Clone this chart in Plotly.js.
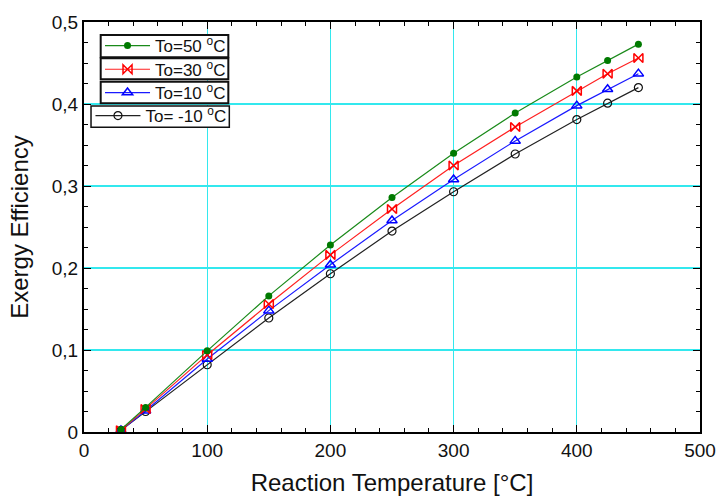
<!DOCTYPE html>
<html><head><meta charset="utf-8">
<script src="https://cdn.plot.ly/plotly-3.0.1.min.js"></script>
<style>body{margin:0;padding:0;background:#fff}</style>
</head><body>
<div id="chart" style="width:717px;height:496px"></div>
<script>
const temps = [30, 50, 100, 150, 200, 250, 300, 350, 400, 425, 450];
const eff50 = [0.003, 0.030, 0.099, 0.166, 0.228, 0.286, 0.340, 0.389, 0.433, 0.453, 0.473];
const eff30 = [0.002, 0.028, 0.094, 0.156, 0.216, 0.272, 0.325, 0.372, 0.416, 0.437, 0.456];
const eff10 = [0.002, 0.026, 0.089, 0.148, 0.204, 0.258, 0.308, 0.355, 0.398, 0.418, 0.437];
const effM10 = [0.002, 0.025, 0.082, 0.139, 0.193, 0.245, 0.293, 0.339, 0.381, 0.401, 0.420];
const names = ['To=50 <sup>o</sup>C', 'To=30 <sup>o</sup>C', 'To=10 <sup>o</sup>C', 'To= -10 <sup>o</sup>C'];

const traces = [
  {x: temps, y: effM10, name: names[3], legend: 'legend4', mode: 'lines+markers',
   line: {color: '#222', width: 1.2}, marker: {symbol: 'circle-open', size: 8, color: '#111', line: {width: 1.2}}},
  {x: temps, y: eff10, name: names[2], legend: 'legend3', mode: 'lines+markers',
   line: {color: '#1a1aff', width: 1.2}, marker: {symbol: 'triangle-up-open', size: 9, color: '#0000ff', line: {width: 1.5}}},
  {x: temps, y: eff30, name: names[1], legend: 'legend2', mode: 'lines+markers',
   line: {color: '#ff2020', width: 1.2}, marker: {symbol: 'bowtie-open', size: 9, color: '#ff0000', line: {width: 1.5}}},
  {x: temps, y: eff50, name: names[0], legend: 'legend', mode: 'lines+markers',
   line: {color: '#1a8a1a', width: 1.2}, marker: {symbol: 'circle', size: 7, color: '#007a00'}}
];

const legBase = {bgcolor: 'rgba(0,0,0,0)', borderwidth: 0, font: {size: 17, color: '#111'},
  xanchor: 'left', yanchor: 'middle', itemwidth: 45, tracegroupgap: 0};

function box(x0, x1, y0, y1, w) {
  return {type: 'rect', xref: 'paper', yref: 'paper', x0: x0, x1: x1, y0: y0, y1: y1,
    fillcolor: '#fff', line: {color: '#111', width: w}, layer: 'above'};
}

const layout = {
  width: 717, height: 496,
  margin: {l: 84, r: 17, t: 22, b: 64},
  paper_bgcolor: '#fff', plot_bgcolor: '#fff',
  separators: ',.',
  font: {family: 'Liberation Sans, Arial, sans-serif', color: '#111'},
  xaxis: {
    range: [0, 500], dtick: 100, tick0: 0,
    title: {text: 'Reaction Temperature [°C]', font: {size: 24}, standoff: 14},
    tickfont: {size: 19}, ticks: 'inside', ticklen: 7, tickcolor: '#000',
    showgrid: true, gridcolor: '#33e8ee', gridwidth: 1.2,
    showline: true, linecolor: '#000', linewidth: 2, mirror: 'allticks',
    zeroline: false,
    minor: {dtick: 20, ticks: 'inside', ticklen: 4, tickcolor: '#000', showgrid: false}
  },
  yaxis: {
    range: [0, 0.5], dtick: 0.1, tick0: 0,
    title: {text: 'Exergy Efficiency', font: {size: 24}, standoff: 16},
    tickfont: {size: 19}, ticks: 'inside', ticklen: 7, tickcolor: '#000',
    showgrid: true, gridcolor: '#33e8ee', gridwidth: 1.2,
    showline: true, linecolor: '#000', linewidth: 2, mirror: 'allticks',
    zeroline: false,
    minor: {dtick: 0.025, ticks: 'inside', ticklen: 4, tickcolor: '#000', showgrid: false}
  },
  shapes: [
    box(0.0271, 0.2343, 0.9139, 0.9683, 2),
    box(0.0271, 0.2343, 0.8602, 0.9115, 2),
    box(0.0271, 0.2343, 0.8017, 0.8544, 2),
    box(0.0114, 0.2359, 0.7432, 0.7951, 1.5)
  ],
  legend: Object.assign({}, legBase, {x: 0.026, y: 0.9415}),
  legend2: Object.assign({}, legBase, {x: 0.026, y: 0.8837}),
  legend3: Object.assign({}, legBase, {x: 0.026, y: 0.8268}),
  legend4: Object.assign({}, legBase, {x: 0.0105, y: 0.7707}),
  showlegend: true
};

Plotly.newPlot('chart', traces, layout, {displayModeBar: false, staticPlot: true});
</script>
</body></html>
